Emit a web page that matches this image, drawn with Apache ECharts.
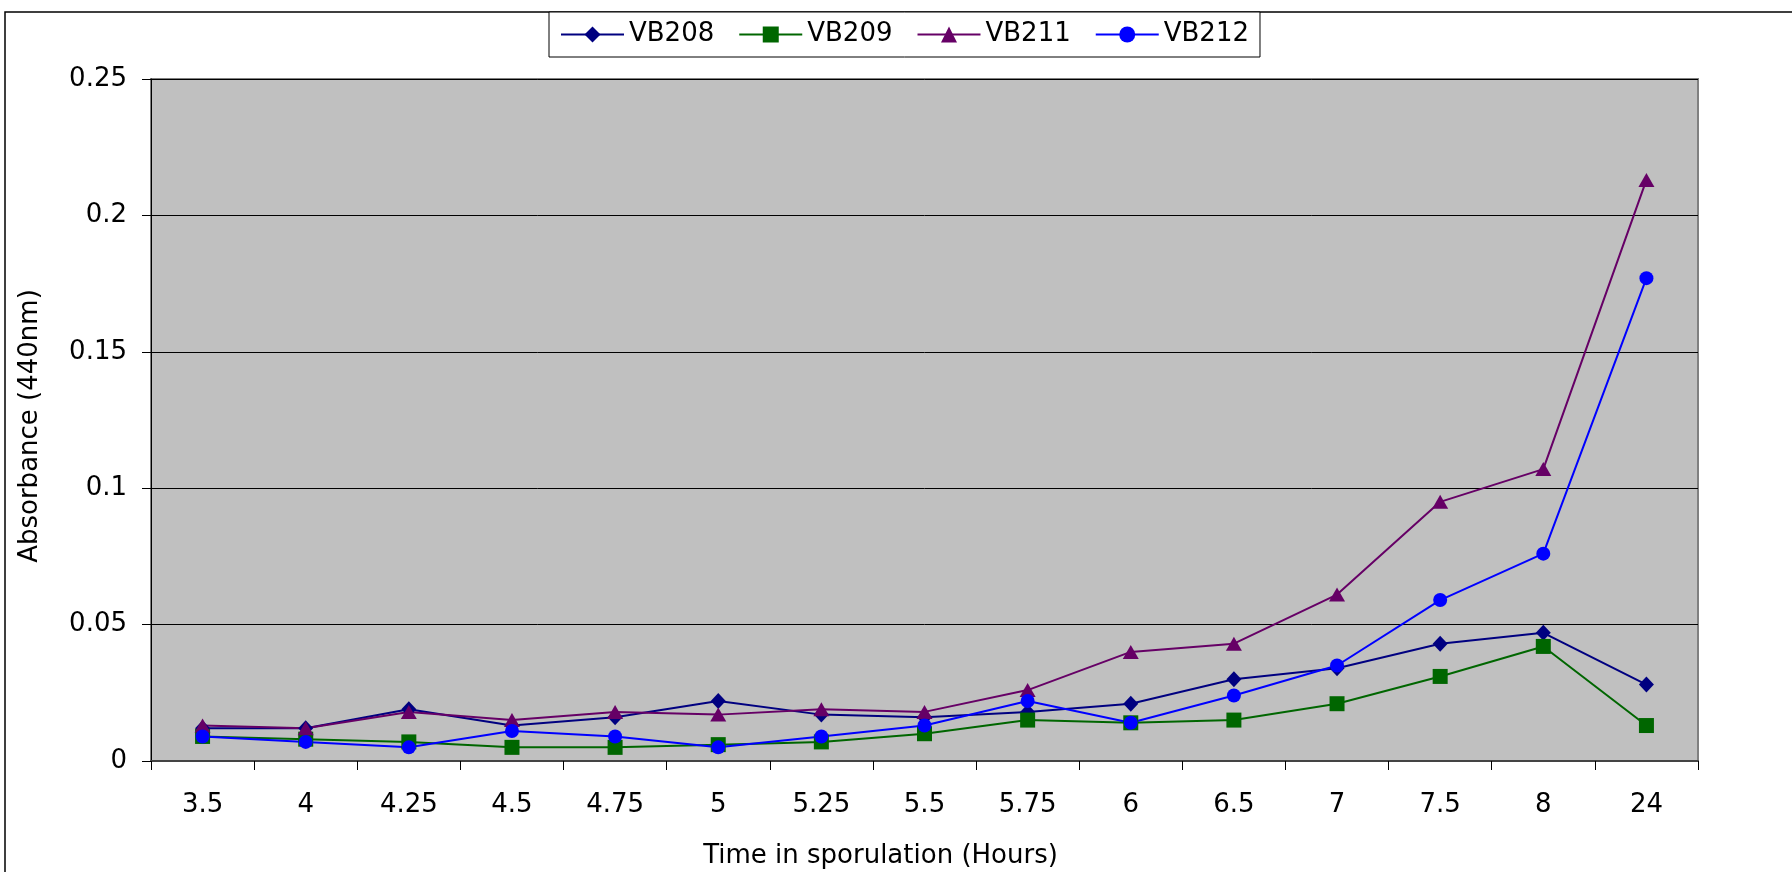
<!DOCTYPE html>
<html>
<head>
<meta charset="utf-8">
<script src="https://cdn.jsdelivr.net/npm/echarts@6/dist/echarts.min.js"></script>
<style>
  html, body { margin: 0; padding: 0; background: #fff; }
  #main { width: 1792px; height: 872px; }
</style>
</head>
<body>
<div id="main"></div>
<script>
var hours = ['3.5', '4', '4.25', '4.5', '4.75', '5', '5.25', '5.5', '5.75', '6', '6.5', '7', '7.5', '8', '24'];
var vb208 = [0.012, 0.012, 0.019, 0.013, 0.016, 0.022, 0.017, 0.016, 0.018, 0.021, 0.030, 0.034, 0.043, 0.047, 0.028];
var vb209 = [0.009, 0.008, 0.007, 0.005, 0.005, 0.006, 0.007, 0.010, 0.015, 0.014, 0.015, 0.021, 0.031, 0.042, 0.013];
var vb211 = [0.013, 0.012, 0.018, 0.015, 0.018, 0.017, 0.019, 0.018, 0.026, 0.040, 0.043, 0.061, 0.095, 0.107, 0.213];
var vb212 = [0.009, 0.007, 0.005, 0.011, 0.009, 0.005, 0.009, 0.013, 0.022, 0.014, 0.024, 0.035, 0.059, 0.076, 0.177];

var font = 'DejaVu Sans';

function line(name, data, color, symbol, size) {
  return {
    name: name,
    type: 'line',
    data: data,
    symbol: symbol,
    symbolSize: size,
    lineStyle: { color: color, width: 2 },
    itemStyle: { color: color },
    emphasis: { disabled: true }
  };
}

var myChart = echarts.init(document.getElementById('main'));
myChart.setOption({
  animation: false,
  textStyle: { fontFamily: font },
  graphic: [{
    type: 'rect',
    z: -10,
    shape: { x: 5, y: 12, width: 1850, height: 900 },
    style: { fill: 'none', stroke: '#000', lineWidth: 1.5 }
  }],
  legend: {
    left: 549,
    top: 12,
    padding: [9, 11],
    itemGap: 24,
    itemWidth: 63,
    itemHeight: 20,
    borderColor: '#000',
    borderWidth: 1,
    backgroundColor: '#fff',
    textStyle: { fontFamily: font, fontSize: 26, color: '#000', lineHeight: 27 },
    data: ['VB208', 'VB209', 'VB211', 'VB212']
  },
  grid: {
    left: 151,
    right: 94,
    top: 79,
    bottom: 111,
    outerBoundsMode: 'none',
    show: true,
    backgroundColor: '#c0c0c0',
    borderColor: '#808080',
    borderWidth: 2
  },
  xAxis: {
    type: 'category',
    data: hours,
    boundaryGap: true,
    name: 'Time in sporulation (Hours)',
    nameLocation: 'middle',
    nameGap: 82,
    nameTextStyle: { fontFamily: font, fontSize: 26, color: '#000', padding: [0, 88, 0, 0] },
    axisLine: { lineStyle: { color: '#444', width: 2 } },
    axisTick: { show: true, length: 9, lineStyle: { color: '#000' } },
    axisLabel: { margin: 31, fontSize: 26, color: '#000', fontFamily: font },
    splitLine: { show: false }
  },
  yAxis: {
    type: 'value',
    min: 0,
    max: 0.25,
    interval: 0.05,
    name: 'Absorbance (440nm)',
    nameLocation: 'middle',
    nameGap: 108,
    nameTextStyle: { fontFamily: font, fontSize: 26, color: '#000', padding: [0, 12, 0, 0] },
    axisLine: { show: true, lineStyle: { color: '#000', width: 1 } },
    axisTick: { show: true, length: 9, lineStyle: { color: '#000' } },
    axisLabel: { margin: 24, fontSize: 26, color: '#000', fontFamily: font },
    splitLine: { show: true, lineStyle: { color: '#000', width: 1 } }
  },
  series: [
    line('VB208', vb208, '#000080', 'diamond', [15, 16]),
    line('VB209', vb209, '#006600', 'rect', [15, 15]),
    line('VB211', vb211, '#660066', 'triangle', [16, 14]),
    line('VB212', vb212, '#0000ff', 'circle', 14)
  ]
});
</script>
</body>
</html>
